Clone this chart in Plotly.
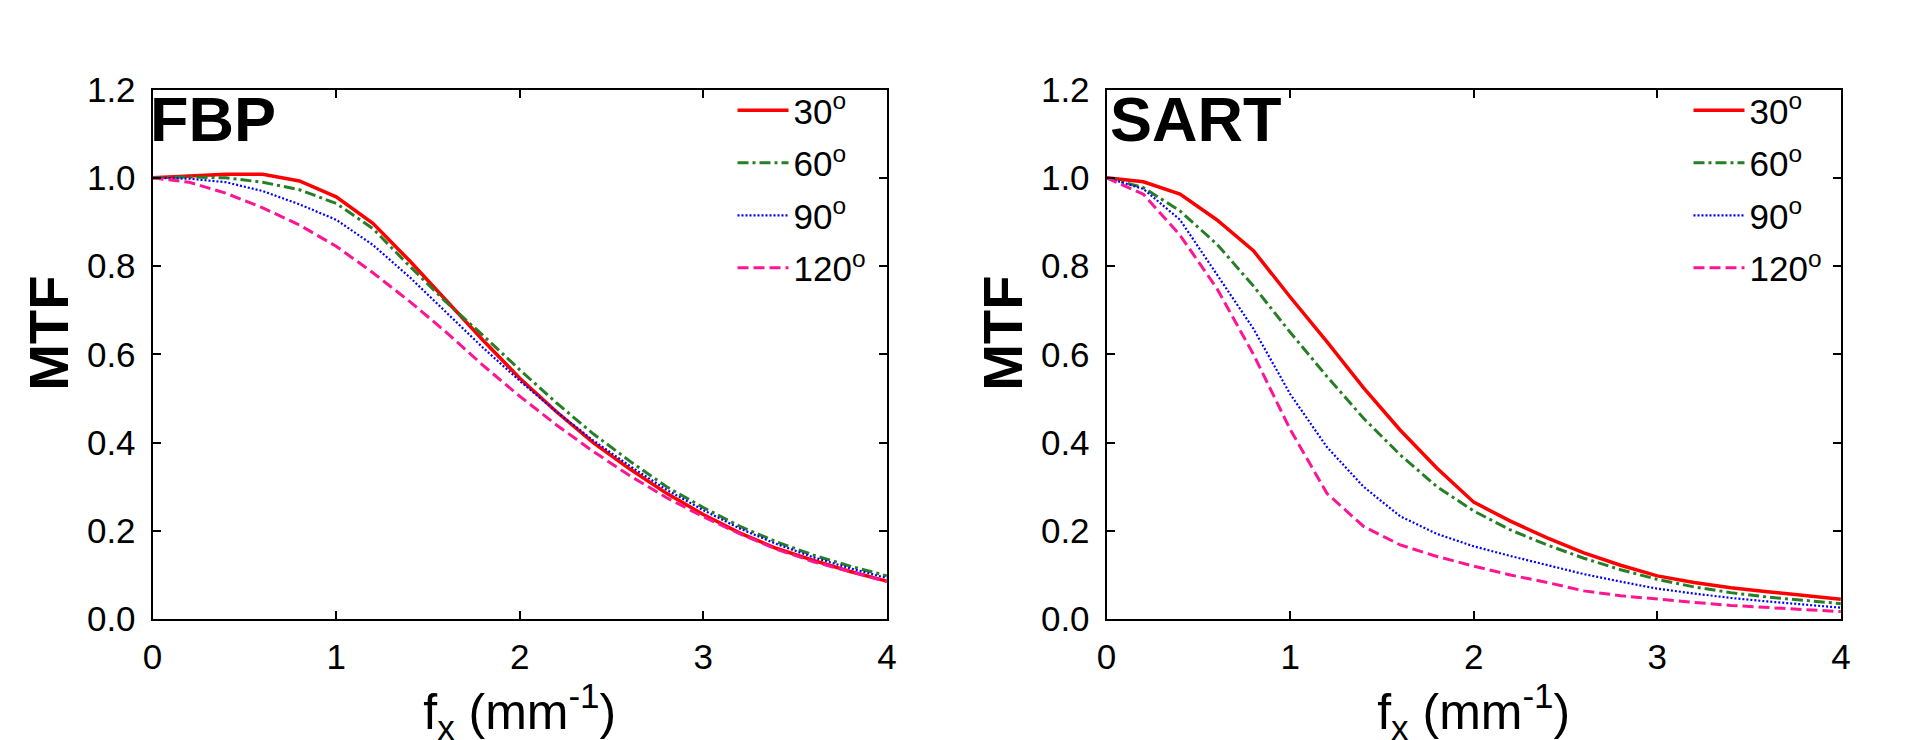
import plotly.graph_objects as go

# ---------------- data ----------------
fx = [0.0, 0.2, 0.4, 0.6, 0.8, 1.0, 1.2, 1.4, 1.6, 1.8, 2.0,
      2.2, 2.4, 2.6, 2.8, 3.0, 3.2, 3.4, 3.6, 3.8, 4.0]

angle_labels = ["30<sup>o</sup>", "60<sup>o</sup>", "90<sup>o</sup>", "120<sup>o</sup>"]

fbp_30 = [1.000, 1.004, 1.008, 1.008, 0.993, 0.957, 0.897, 0.812, 0.722, 0.632, 0.546,
          0.470, 0.400, 0.340, 0.285, 0.237, 0.195, 0.160, 0.133, 0.108, 0.086]
fbp_60 = [1.000, 1.002, 1.000, 0.990, 0.973, 0.942, 0.885, 0.800, 0.718, 0.643, 0.565,
          0.490, 0.420, 0.358, 0.300, 0.253, 0.210, 0.175, 0.145, 0.120, 0.098]
fbp_90 = [1.000, 0.998, 0.990, 0.970, 0.940, 0.905, 0.848, 0.775, 0.695, 0.615, 0.540,
          0.470, 0.405, 0.347, 0.293, 0.247, 0.205, 0.170, 0.140, 0.115, 0.093]
fbp_120 = [1.000, 0.990, 0.965, 0.932, 0.893, 0.845, 0.785, 0.720, 0.650, 0.575, 0.505,
           0.440, 0.380, 0.325, 0.275, 0.232, 0.193, 0.158, 0.130, 0.107, 0.085]

sart_30 = [1.000, 0.991, 0.963, 0.905, 0.835, 0.730, 0.629, 0.524, 0.428, 0.342, 0.265,
           0.222, 0.184, 0.150, 0.122, 0.098, 0.083, 0.071, 0.062, 0.053, 0.045]
sart_60 = [1.000, 0.978, 0.925, 0.850, 0.755, 0.650, 0.550, 0.455, 0.372, 0.300, 0.245,
           0.202, 0.168, 0.138, 0.112, 0.090, 0.073, 0.060, 0.050, 0.042, 0.035]
sart_90 = [1.000, 0.975, 0.905, 0.780, 0.658, 0.510, 0.390, 0.300, 0.233, 0.193, 0.165,
           0.143, 0.122, 0.102, 0.085, 0.069, 0.058, 0.048, 0.040, 0.033, 0.026]
sart_120 = [1.000, 0.963, 0.870, 0.750, 0.600, 0.430, 0.285, 0.210, 0.168, 0.142, 0.120,
            0.100, 0.083, 0.064, 0.053, 0.045, 0.038, 0.031, 0.026, 0.021, 0.017]

x_ticks = [0, 1, 2, 3, 4]
y_ticks = [0.0, 0.2, 0.4, 0.6, 0.8, 1.0, 1.2]

# ---------------- styles ----------------
colors = ["#FF0000", "#267F26", "#0000FF", "#FF1493"]
dashes = ["solid", "11px,4px,3px,4px", "2px,2px", "11px,5px"]
widths = [3.5, 3, 2.2, 3]
FONT = "Liberation Sans, Arial, Helvetica, sans-serif"

fig = go.Figure()

panels = [
    ([fbp_30, fbp_60, fbp_90, fbp_120], "x", "y", "legend"),
    ([sart_30, sart_60, sart_90, sart_120], "x2", "y2", "legend2"),
]
for series, xa, ya, lg in panels:
    for i, ys in enumerate(series):
        fig.add_trace(go.Scatter(
            x=fx, y=ys, mode="lines", name=angle_labels[i],
            xaxis=xa, yaxis=ya, legend=lg, legendgroup=f"{lg}_{i}",
            line=dict(color=colors[i], dash=dashes[i], width=widths[i]),
        ))

W, H = 1927, 740
ax_common = dict(
    showline=True, linecolor="black", linewidth=2, mirror="ticks",
    ticks="inside", ticklen=8, tickwidth=2, tickcolor="black",
    showgrid=False, zeroline=False,
    tickfont=dict(family=FONT, size=35, color="black"),
)
xcommon = dict(ax_common, range=[0, 4], tickvals=x_ticks, ticklabelstandoff=6,
               title=dict(text="f<sub>x</sub> (mm<sup>-1</sup>)",
                          font=dict(family=FONT, size=50, color="black"), standoff=5))
ycommon = dict(ax_common, range=[0, 1.2], tickvals=y_ticks, tickformat=".1f",
               ticklabelstandoff=8)

ytop, ybot = 1 - 65 / H, 1 - 624 / H
leg_common = dict(xanchor="left", yanchor="top", bgcolor="rgba(0,0,0,0)",
                  font=dict(family=FONT, size=35, color="black"),
                  tracegroupgap=4, itemwidth=51)
fig.update_layout(
    width=W, height=H,
    margin=dict(l=0, r=0, t=0, b=0),
    paper_bgcolor="white", plot_bgcolor="white",
    font=dict(family=FONT, color="black"),
    showlegend=True,
    xaxis=dict(xcommon, domain=[136 / W, 878 / W], anchor="y"),
    yaxis=dict(ycommon, domain=[ybot, ytop], anchor="x"),
    xaxis2=dict(xcommon, domain=[1100 / W, 1842 / W], anchor="y2"),
    yaxis2=dict(ycommon, domain=[ybot, ytop], anchor="x2"),
    legend=dict(leg_common, x=722 / W, y=1 - 56 / H),
    legend2=dict(leg_common, x=1688 / W, y=1 - 56 / H),
    annotations=[
        dict(text="<b>FBP</b>", xref="x domain", yref="y domain", x=-0.006, y=0.945,
             xanchor="left", yanchor="middle", showarrow=False,
             font=dict(family=FONT, size=63, color="black")),
        dict(text="<b>SART</b>", xref="x2 domain", yref="y2 domain", x=0.002, y=0.945,
             xanchor="left", yanchor="middle", showarrow=False,
             font=dict(family=FONT, size=63, color="black")),
        dict(text="<b>MTF</b>", xref="paper", yref="paper", x=30 / W, y=1 - 322 / H,
             xanchor="center", yanchor="middle", textangle=-90, showarrow=False,
             font=dict(family=FONT, size=56, color="black")),
        dict(text="<b>MTF</b>", xref="paper", yref="paper", x=994 / W, y=1 - 322 / H,
             xanchor="center", yanchor="middle", textangle=-90, showarrow=False,
             font=dict(family=FONT, size=56, color="black")),
    ],
)

fig.write_html("out.html")
